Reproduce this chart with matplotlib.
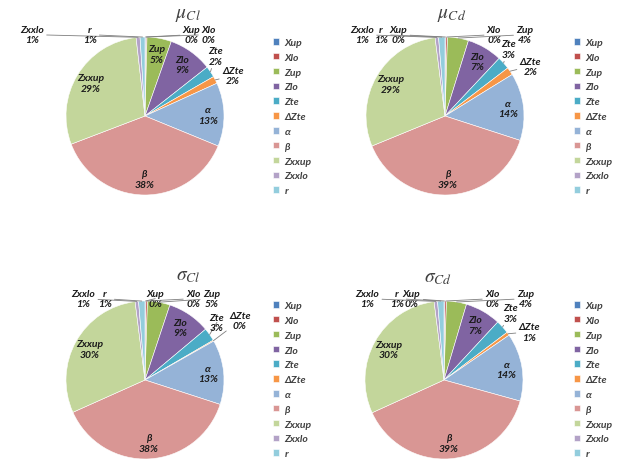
import matplotlib.pyplot as plt
import numpy as np

plt.rcParams['mathtext.fontset'] = 'stix'

# slice order as in the Excel charts (clockwise from 12 o'clock)
names = ['Xup', 'Xlo', 'Zup', 'Zlo', 'Zte', 'ΔZte', 'α', 'β', 'Zxxup', 'Zxxlo', 'r']
colors = ['#4F81BD', '#C0504D', '#9BBB59', '#8064A2', '#4BACC6', '#F79646',
          '#95B3D7', '#D99694', '#C3D69B', '#B3A2C7', '#93CDDD']

mu_cl = [0.2, 0.2, 5.0, 9.0, 2.3, 1.5, 13.0, 38.0, 29.0, 0.8, 1.0]
mu_cd = [0.2, 0.3, 4.3, 7.2, 2.6, 1.6, 13.8, 38.8, 29.2, 0.7, 1.3]
sigma_cl = [0.2, 0.3, 4.6, 8.8, 2.7, 0.2, 13.2, 38.3, 29.7, 0.7, 1.3]
sigma_cd = [0.2, 0.3, 4.1, 7.3, 2.8, 0.7, 13.9, 38.9, 29.8, 0.7, 1.3]

titles = [r'$\mu_{Cl}$', r'$\mu_{Cd}$', r'$\sigma_{Cl}$', r'$\sigma_{Cd}$']

# layout in pixels: pie centre, radius, title pos, legend top-left
W, H = 625, 477
layout = [
    dict(c=(145, 117), r=79, title=(188, 14), leg=(273, 39)),
    dict(c=(445, 117), r=79, title=(452, 14), leg=(574, 39)),
    dict(c=(145, 381), r=79, title=(188, 276), leg=(273, 302)),
    dict(c=(444, 381), r=79, title=(438, 278), leg=(574, 302)),
]

# outside label positions (in pie radii) for the small slices
outside = [
    {'Zxxlo': (-1.43, 1.03), 'r': (-0.70, 1.03), 'Xup': (0.59, 1.03),
     'Xlo': (0.80, 1.03), 'Zte': (0.89, 0.76), 'ΔZte': (1.11, 0.51)},
    {'Zxxlo': (-1.05, 1.03), 'r': (-0.81, 1.03), 'Xup': (-0.59, 1.03),
     'Xlo': (0.62, 1.03), 'Zup': (1.01, 1.03), 'Zte': (0.80, 0.85),
     'ΔZte': (1.08, 0.63)},
    {'Zxxlo': (-0.78, 1.03), 'r': (-0.51, 1.03), 'Xup': (0.13, 1.03),
     'Xlo': (0.61, 1.03), 'Zup': (0.84, 1.03), 'Zte': (0.91, 0.73),
     'ΔZte': (1.20, 0.75)},
    {'Zxxlo': (-0.97, 1.03), 'r': (-0.60, 1.03), 'Xup': (-0.41, 1.03),
     'Xlo': (0.61, 1.03), 'Zup': (1.03, 1.03), 'Zte': (0.84, 0.85),
     'ΔZte': (1.08, 0.61)},
]

label_font = dict(family=['Lato', 'DejaVu Sans'], weight='bold', style='italic',
                  size=7.5, color='#1a1a1a')

fig = plt.figure(figsize=(6.25, 4.77), dpi=100)

for vals, title, lay, outs in zip([mu_cl, mu_cd, sigma_cl, sigma_cd], titles, layout, outside):
    cx, cy = lay['c']
    r = lay['r']
    ax = fig.add_axes([(cx - r) / W, (H - cy - r) / H, 2 * r / W, 2 * r / H])
    wedges, _ = ax.pie(vals, colors=colors, startangle=90, counterclock=False,
                       wedgeprops=dict(edgecolor='white', linewidth=0.4))
    ax.set_xlim(-1, 1)
    ax.set_ylim(-1, 1)
    ax.axis('off')

    for name, v, w in zip(names, vals, wedges):
        ang = np.deg2rad((w.theta1 + w.theta2) / 2)
        txt = f"{name}\n{v:.0f}%"
        if name in outs:
            ax.annotate(txt, xy=(np.cos(ang), np.sin(ang)), xytext=outs[name],
                        ha='center', va='center', linespacing=1.2,
                        arrowprops=dict(arrowstyle='-', color='#7f7f7f', lw=0.6,
                                        shrinkA=0, shrinkB=0),
                        annotation_clip=False, **label_font)
        else:
            ax.text(0.8 * np.cos(ang), 0.8 * np.sin(ang), txt, ha='center',
                    va='center', linespacing=1.2, **label_font)

    tx, ty = lay['title']
    fig.text(tx / W, 1 - ty / H, title, ha='center', va='center',
             fontsize=14, color='#404040')

    lx, ly = lay['leg']
    ax.legend(wedges, names, loc='upper left', bbox_to_anchor=(lx / W, 1 - ly / H),
              bbox_transform=fig.transFigure, frameon=False,
              prop=dict(family=['Lato', 'DejaVu Sans'], weight='bold',
                        style='italic', size=7.5),
              labelcolor='#404040', handlelength=0.6, handleheight=0.6,
              handletextpad=0.5, labelspacing=0.56, borderpad=0, borderaxespad=0)

fig.savefig('out.png', dpi=100)
